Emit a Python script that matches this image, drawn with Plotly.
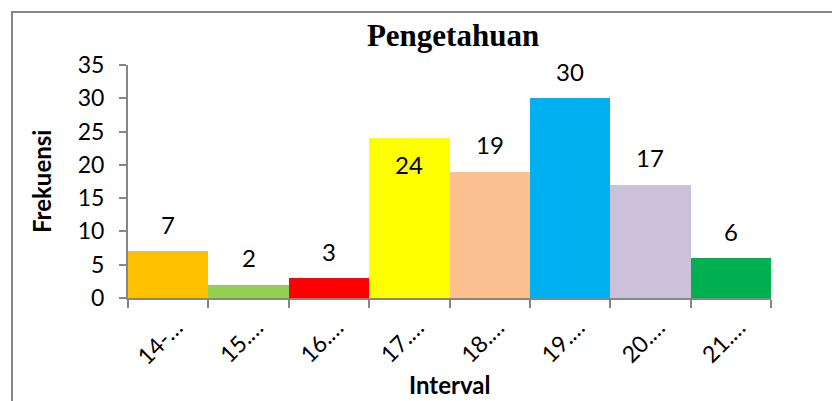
import plotly.graph_objects as go

# interval classes (labels are truncated the same way as in the source chart)
intervals = ["14-…", "15.…", "16.…", "17.…", "18.…", "19.…", "20.…", "21.…"]
frekuensi = [7, 2, 3, 24, 19, 30, 17, 6]
bar_colors = ["#FFC000", "#92D050", "#FF0000", "#FFFF00",
              "#FAC090", "#00B0F0", "#CCC1DA", "#00B050"]
y_ticks = [0, 5, 10, 15, 20, 25, 30, 35]

FONT = "Lato, 'Open Sans', sans-serif"
AXIS_GREY = "#868686"

# plot area in pixels
W, H = 832, 401
L, R, T, B = 128, 61, 65, 103
pw, ph = W - L - R, H - T - B


def px_x(px):
    return (px - L) / pw


def px_y(py):
    return (H - B - py) / ph


fig = go.Figure()
fig.add_trace(go.Bar(
    x=intervals,
    y=frekuensi,
    marker=dict(color=bar_colors, line=dict(width=0)),
    hoverinfo="x+y",
))

# value labels; the 24 label sits inside its bar in the original
annotations = []
for cat, val in zip(intervals, frekuensi):
    annotations.append(dict(
        x=cat, y=val, xref="x", yref="y", text=str(val), showarrow=False,
        yanchor="middle", yshift=-26 if val == 24 else 27,
        font=dict(family=FONT, size=24, color="black"),
    ))

annotations.append(dict(
    x=px_x(41), y=px_y(182), xref="paper", yref="paper", text="<b>Frekuensi</b>",
    textangle=-90, showarrow=False, xanchor="center", yanchor="middle",
    font=dict(family=FONT, size=24, color="black"),
))
annotations.append(dict(
    x=px_x(449), y=px_y(384), xref="paper", yref="paper", text="<b>Interval</b>",
    showarrow=False, xanchor="center", yanchor="middle",
    font=dict(family=FONT, size=24, color="black"),
))

fig.update_layout(
    width=W, height=H,
    margin=dict(l=L, r=R, t=T, b=B),
    paper_bgcolor="white", plot_bgcolor="white",
    bargap=0,
    showlegend=False,
    title=dict(
        text="<b>Pengetahuan</b>", x=453 / W, y=1 - 35 / H,
        xanchor="center", yanchor="middle",
        font=dict(family="'Liberation Serif', 'Times New Roman', serif", size=31, color="black"),
    ),
    annotations=annotations,
    shapes=[dict(
        type="rect", xref="paper", yref="paper",
        x0=px_x(12), x1=px_x(845), y0=px_y(415), y1=px_y(12),
        line=dict(color=AXIS_GREY, width=2), fillcolor="rgba(0,0,0,0)", layer="below",
    )],
)

fig.update_xaxes(
    showline=True, linecolor=AXIS_GREY, linewidth=2,
    ticks="outside", ticklen=8, tickcolor=AXIS_GREY, tickwidth=2,
    tickson="boundaries", tickangle=-45,
    ticklabelstandoff=5, ticklabelshift=8,
    tickfont=dict(family=FONT, size=23, color="black"),
    showgrid=False, zeroline=False,
)
fig.update_yaxes(
    range=[0, 35], tickvals=y_ticks,
    showline=True, linecolor=AXIS_GREY, linewidth=2,
    ticks="outside", ticklen=7, tickcolor=AXIS_GREY, tickwidth=2,
    ticklabelstandoff=10,
    tickfont=dict(family=FONT, size=23, color="black"),
    showgrid=False, zeroline=False,
)

# the page's default body margin would shift the chart by 8px
fig.write_html("out.html", config={"displayModeBar": False},
               post_script="document.body.style.margin = '0';")
